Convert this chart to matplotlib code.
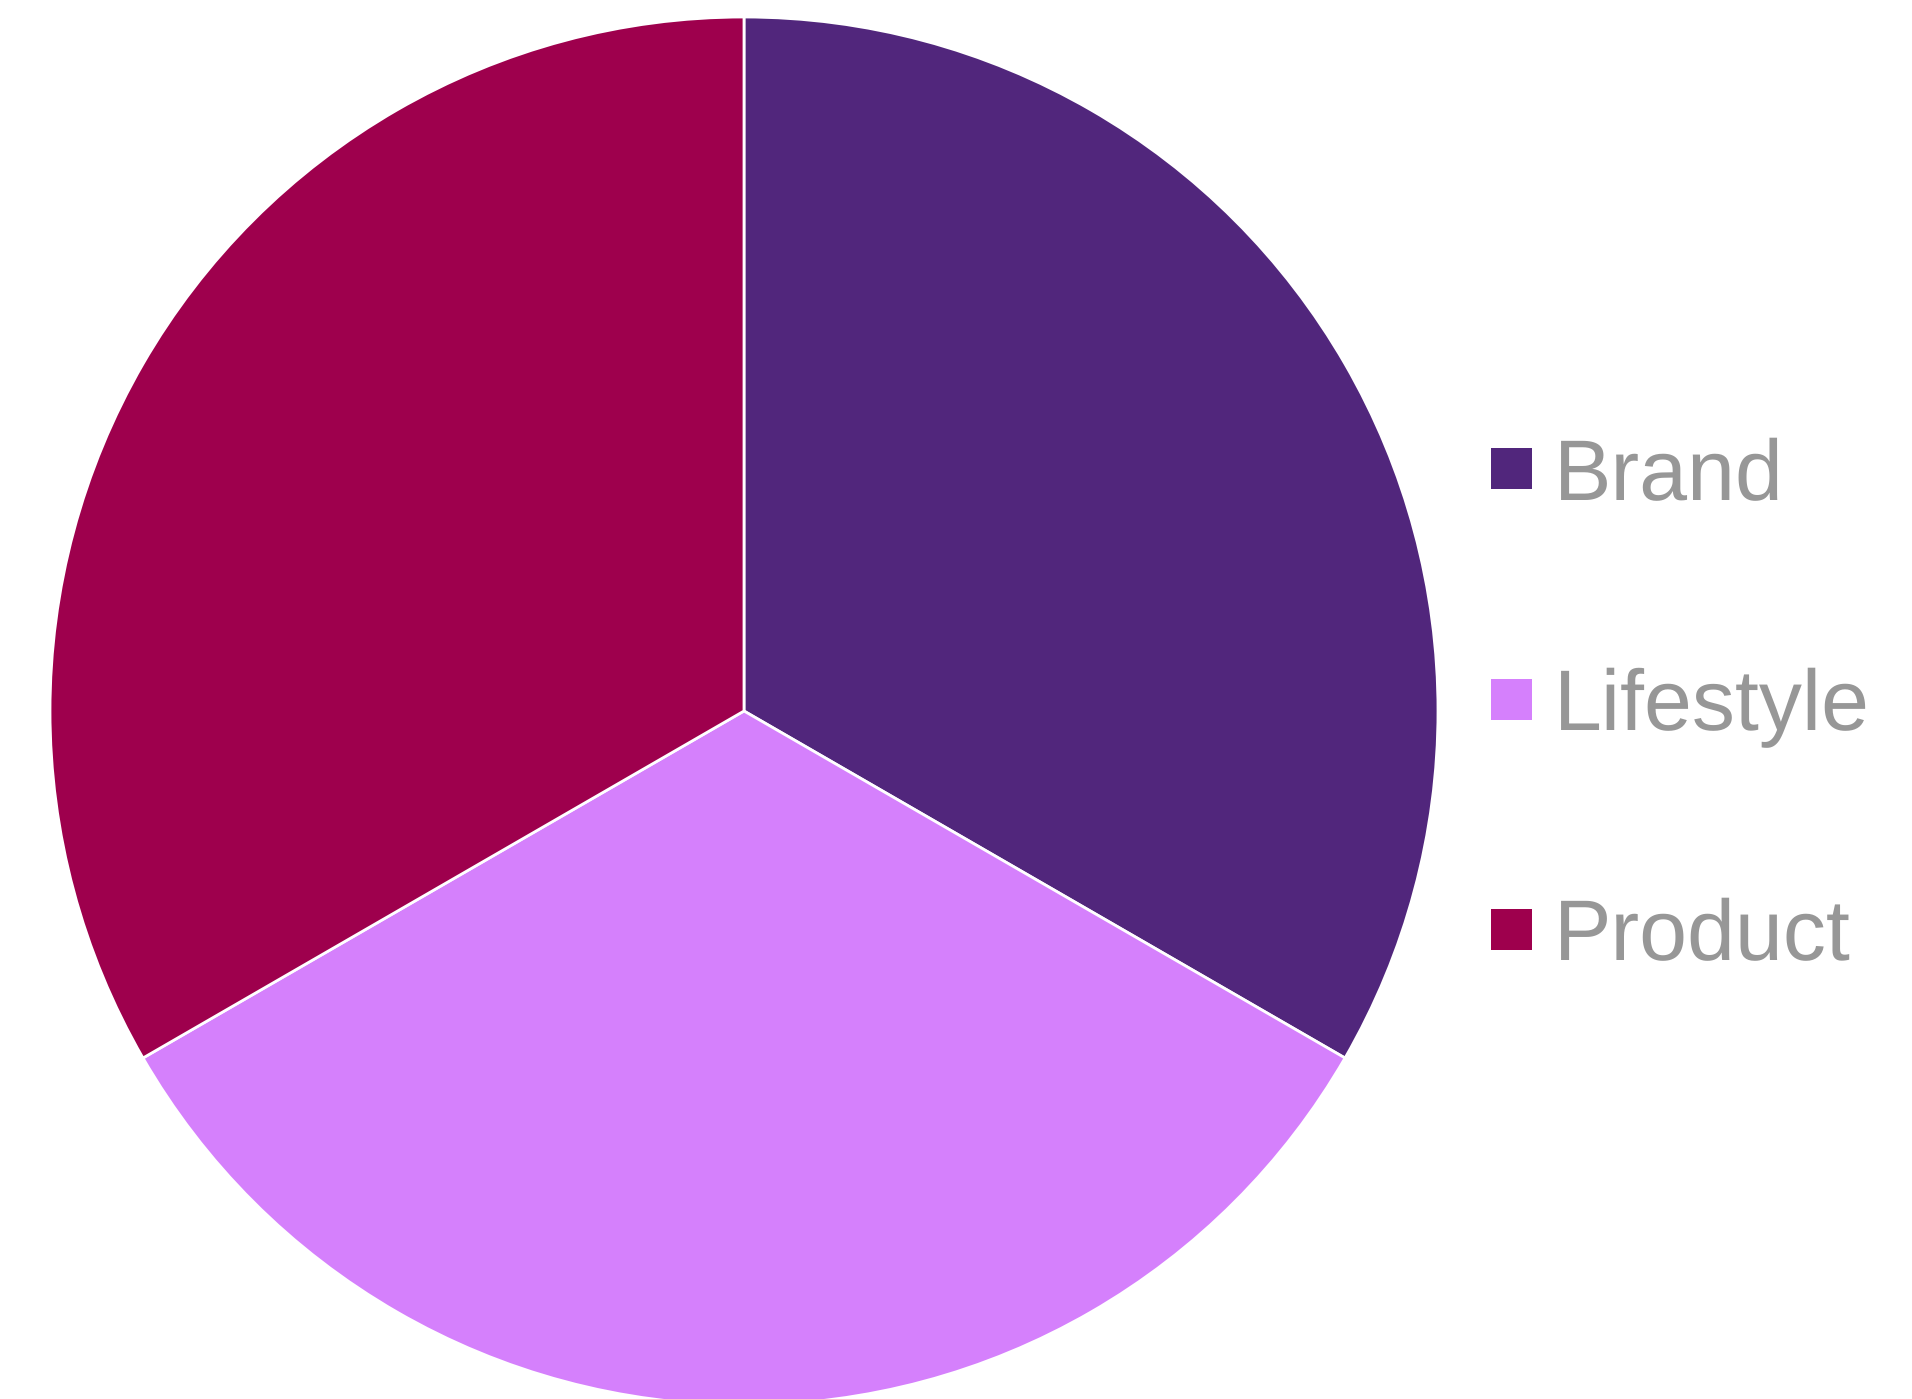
import matplotlib.pyplot as plt

plt.rcParams['font.family'] = ['Liberation Sans', 'DejaVu Sans']
plt.rcParams['text.hinting'] = 'no_hinting'

labels = ['Brand', 'Lifestyle', 'Product']
values = [1, 1, 1]
colors = ['#51267C', '#D580FC', '#9E004D']

W, H = 1912, 1399
fig = plt.figure(figsize=(W / 100, H / 100), dpi=100)

# pie centre (744, 711) px from top-left, radius ~694 px
cx, cy, r = 744, 711, 694
ax = fig.add_axes([(cx - r) / W, (H - cy - r) / H, 2 * r / W, 2 * r / H])
wedges, _ = ax.pie(values, colors=colors, startangle=90, counterclock=False,
                   wedgeprops=dict(edgecolor='white', linewidth=2))
ax.set_xlim(-1, 1)
ax.set_ylim(-1, 1)
ax.set_aspect('auto')
ax.axis('off')

leg = fig.legend(wedges, labels, loc='center left',
                 bbox_to_anchor=(1491 / W, 1 - 708 / H),
                 frameon=False, fontsize=62, labelspacing=1.745,
                 handlelength=0.476, handleheight=0.355, handletextpad=0.26,
                 borderpad=0, borderaxespad=0)
for t in leg.get_texts():
    t.set_color('#979797')
for h in leg.legend_handles:
    h.set_edgecolor('none')

fig.savefig('out.png', dpi=100)
